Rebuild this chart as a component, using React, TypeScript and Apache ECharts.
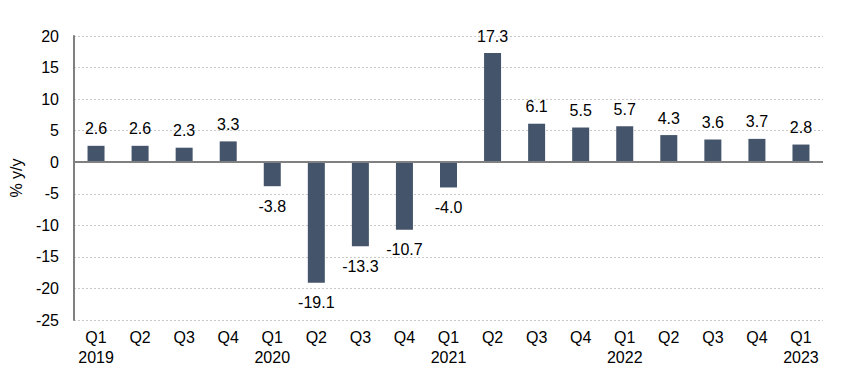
import React, { useEffect, useRef } from "react";
import * as echarts from "echarts";

const quarters = ["Q1", "Q2", "Q3", "Q4", "Q1", "Q2", "Q3", "Q4", "Q1", "Q2", "Q3", "Q4", "Q1", "Q2", "Q3", "Q4", "Q1"];
const years = ["2019", "", "", "", "2020", "", "", "", "2021", "", "", "", "2022", "", "", "", "2023"];
const values = [2.6, 2.6, 2.3, 3.3, -3.8, -19.1, -13.3, -10.7, -4.0, 17.3, 6.1, 5.5, 5.7, 4.3, 3.6, 3.7, 2.8];
const yTicks = { min: -25, max: 20, interval: 5 };
const yName = "% y/y";

const FONT = "Liberation Sans, Arial, sans-serif";

export default function App() {
  const ref = useRef<HTMLDivElement>(null);
  useEffect(() => {
    if (!ref.current) return;
    const chart = echarts.init(ref.current, undefined, { renderer: "svg" });
    const categories = quarters.map((q, i) => (years[i] ? `${q}\n${years[i]}` : q));
    chart.setOption({
      animation: false,
      grid: { left: 74, right: 32, top: 36, bottom: 55, containLabel: false },
      xAxis: {
        type: "category",
        data: categories,
        axisLine: { show: false },
        axisTick: { show: false },
        axisLabel: {
          color: "#000",
          fontFamily: FONT,
          fontSize: 16,
          lineHeight: 20,
          margin: 7,
          verticalAlign: "top",
          interval: 0,
        },
      },
      yAxis: {
        type: "value",
        min: yTicks.min,
        max: yTicks.max,
        interval: yTicks.interval,
        name: yName,
        nameLocation: "middle",
        nameGap: 43,
        nameTextStyle: { color: "#000", fontFamily: FONT, fontSize: 16 },
        axisLine: { show: true, lineStyle: { color: "#808080", width: 2 } },
        axisTick: { show: false },
        axisLabel: { color: "#000", fontFamily: FONT, fontSize: 16, margin: 15 },
        splitLine: { show: true, lineStyle: { color: "#c8c8c8", type: [2, 2], width: 1 } },
      },
      series: [
        {
          type: "bar",
          barWidth: 17,
          itemStyle: { color: "#44546A" },
          data: values.map((v) => ({
            value: v,
            label: {
              show: true,
              position: v >= 0 ? "top" : "bottom",
              distance: v >= 0 ? 9 : 12,
              color: "#000",
              fontFamily: FONT,
              fontSize: 16,
              formatter: () => v.toFixed(1),
            },
          })),
          markLine: {
            silent: true,
            symbol: "none",
            label: { show: false },
            lineStyle: { color: "#808080", width: 2, type: "solid" },
            data: [{ yAxis: 0 }],
          },
        },
      ],
    });
    return () => chart.dispose();
  }, []);
  return <div ref={ref} style={{ width: 855, height: 375, position: "absolute", left: 0, top: 0 }} />;
}
